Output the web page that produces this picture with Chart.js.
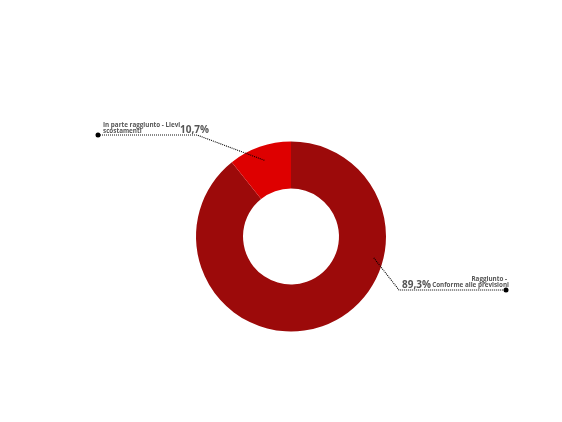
<!DOCTYPE html>
<html>
<head>
<meta charset="utf-8">
<script src="https://cdn.jsdelivr.net/npm/chart.js@4"></script>
<style>
  html, body { margin: 0; padding: 0; background: #ffffff; }
  #wrap { width: 562px; height: 422px; position: relative; }
</style>
</head>
<body>
<div id="wrap"><canvas id="pieChart"></canvas></div>
<script>
// data
const labels = [['Raggiunto -', 'Conforme alle previsioni'], ['In parte raggiunto - Lievi', 'scostamenti']];
const values = [89.3, 10.7];
const colors = ['#9c0a0a', '#de0000'];

// where each leader line leaves the slice and where its label sits
// anchor: fraction along the slice angle, radius fraction; elbow/end relative to centre
const callouts = [
  { at: 0.325, r: 0.9, elbow: [108, 53.5], endX: 215, side: 'right' },
  { at: 0.5, r: 0.85, elbow: [-94, -101.5], endX: -193, side: 'left' }
];

const fmt = v => v.toFixed(1).replace('.', ',') + '%';

const leaderLines = {
  id: 'leaderLines',
  afterDatasetsDraw(chart) {
    const ctx = chart.ctx;
    const arcs = chart.getDatasetMeta(0).data;
    arcs.forEach((arc, i) => {
      const c = callouts[i];
      const { x, y, startAngle, endAngle, outerRadius } = arc.getProps(['x', 'y', 'startAngle', 'endAngle', 'outerRadius'], true);
      const a = startAngle + (endAngle - startAngle) * c.at;
      const ax = x + Math.cos(a) * outerRadius * c.r;
      const ay = y + Math.sin(a) * outerRadius * c.r;
      const ex = x + c.elbow[0], ey = y + c.elbow[1];
      const tx = x + c.endX;

      ctx.save();
      ctx.strokeStyle = '#000';
      ctx.lineWidth = 1.1;
      ctx.setLineDash([1, 1]);
      ctx.beginPath();
      ctx.moveTo(ax, ay);
      ctx.lineTo(ex, ey);
      ctx.lineTo(tx, ey);
      ctx.stroke();
      ctx.setLineDash([]);
      ctx.fillStyle = '#000';
      ctx.beginPath();
      ctx.arc(tx, ey, 2.5, 0, Math.PI * 2);
      ctx.fill();

      ctx.fillStyle = '#555';
      ctx.textBaseline = 'alphabetic';
      const lab = chart.data.labels[i];
      const valFont = 'bold 10px "Open Sans", sans-serif';
      const labFont = 'bold 6.3px "Open Sans", sans-serif';
      if (c.side === 'left') {
        ctx.font = valFont;
        ctx.textAlign = 'right';
        ctx.fillText(fmt(values[i]), ex + 12, ey - 2);
        ctx.font = labFont;
        ctx.textAlign = 'left';
        ctx.fillText(lab[0], tx + 5, ey - 8);
        ctx.fillText(lab[1], tx + 5, ey - 2);
      } else {
        ctx.font = valFont;
        ctx.textAlign = 'left';
        ctx.fillText(fmt(values[i]), ex + 3, ey - 2);
        ctx.font = labFont;
        ctx.textAlign = 'right';
        ctx.fillText(lab[0], tx + 1, ey - 9);
        ctx.fillText(lab[1], tx + 3, ey - 3);
      }
      ctx.restore();
    });
  }
};

new Chart(document.getElementById('pieChart'), {
  type: 'doughnut',
  data: {
    labels: labels,
    datasets: [{
      data: values,
      backgroundColor: colors,
      borderWidth: 0,
      radius: 95
    }]
  },
  options: {
    responsive: true,
    maintainAspectRatio: false,
    animation: false,
    cutout: '50.5%',
    layout: { padding: { left: 20, right: 0, top: 51, bottom: 0 } },
    plugins: {
      legend: { display: false },
      tooltip: { enabled: false }
    }
  },
  plugins: [leaderLines]
});
</script>
</body>
</html>
